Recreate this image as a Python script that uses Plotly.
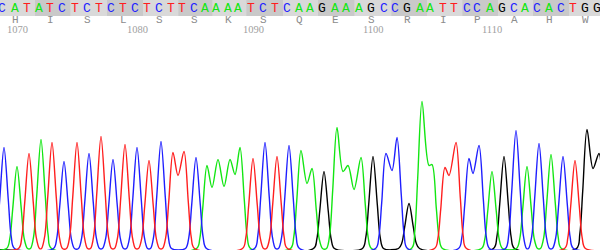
import plotly.graph_objects as go

# ---- data ----
bases = list("CATATCTCTCTCTCTTC" "AAAATCTCAAGAAAGCC" "GAATTCCAGCACACTGG")
peak_x = [4, 17, 29, 41, 52, 64, 77, 89, 101, 113, 125, 137, 149, 161, 173, 184, 196,
          207, 218, 230, 240, 253, 265, 277, 289, 301, 312, 324, 337, 348, 361, 373, 386, 397,
          409, 422, 432, 445, 456, 469, 479, 492, 504, 516, 527, 539, 551, 563, 575, 587, 599]
peak_h = [101, 82, 95, 109, 106, 87, 106, 95, 112, 89, 104, 101, 88, 107, 96, 97, 91,
          83, 89, 89, 101, 90, 106, 92, 103, 98, 80, 77, 121, 83, 91, 92, 95, 111,
          45, 147, 84, 81, 106, 90, 103, 77, 92, 118, 82, 105, 94, 92, 88, 119, 95]
# dip between base i and base i+1 when both are the same call: (i, x, height)
dips = [(14, 178, 73), (17, 212, 61), (18, 224, 62), (19, 235, 74), (25, 307, 65),
        (28, 343, 77), (29, 354, 59), (32, 392, 78), (35, 429, 83), (37, 449, 73),
        (39, 473, 75), (49, 593, 80)]
amino_acids = list("HISLSSKSQESRIPAHW")
first_number = 1070  # numbering of base index 1
number_ticks = [1070, 1080, 1090, 1100, 1110]

colors = {"A": "#12e612", "C": "#1e1eff", "G": "#000000", "T": "#ff1e1e"}
# peak outline style: (offset from peak, fraction of peak height)
PROFILE = [(10.5, 0.0), (7.2, 0.12), (4.3, 0.48)]

fig = go.Figure()
dip_map = {d[0]: (d[1], d[2]) for d in dips}
for b in ["G", "A", "C", "T"]:
    xs, ys = [-30], [0]
    i = 0
    n = len(bases)
    while i < n:
        if bases[i] != b:
            i += 1
            continue
        for off, fr in PROFILE:
            xs.append(peak_x[i] - off); ys.append(peak_h[i] * fr)
        xs.append(peak_x[i]); ys.append(peak_h[i])
        while i in dip_map and i + 1 < n and bases[i + 1] == b:
            dx, dh = dip_map[i]
            xs.append(dx); ys.append(dh)
            i += 1
            xs.append(peak_x[i]); ys.append(peak_h[i])
        for off, fr in reversed(PROFILE):
            xs.append(peak_x[i] + off); ys.append(peak_h[i] * fr)
        i += 1
    xs.append(640); ys.append(0)
    fig.add_trace(go.Scatter(x=xs, y=ys, mode="lines",
                             line=dict(color=colors[b], width=1.4, shape="spline", smoothing=0.9),
                             hoverinfo="skip", showlegend=False))

shapes = []
band_h = 16 / 250
shapes.append(dict(type="rect", xref="paper", yref="paper", x0=0, x1=1, y0=1 - band_h, y1=1,
                   fillcolor="#cfcfcf", line=dict(width=0), layer="below"))
ncod = len(amino_acids)
for k in range(ncod):
    i0 = 3 * k
    i2 = 3 * k + 2
    left = (peak_x[i0] + peak_x[i0 - 1]) / 2 if i0 > 0 else -10
    right = (peak_x[i2] + peak_x[i2 + 1]) / 2 if i2 + 1 < len(peak_x) else 610
    shapes.append(dict(type="rect", xref="x", yref="paper", x0=left, x1=right,
                       y0=1 - band_h, y1=1,
                       fillcolor="#d9d9d9" if k % 2 == 0 else "#c9c9c9",
                       line=dict(width=0), layer="below"))

annotations = []
for i, b in enumerate(bases):
    annotations.append(dict(x=peak_x[i], y=1 - 8.5 / 250, xref="x", yref="paper", text=b,
                            showarrow=False, xshift=-2, yanchor="middle", xanchor="center",
                            font=dict(family="Liberation Mono", size=13, color=colors[b])))
for k, aa in enumerate(amino_acids):
    annotations.append(dict(x=peak_x[3 * k + 1], y=1 - 20.5 / 250, xref="x", yref="paper",
                            text=aa, showarrow=False, xshift=-2, yanchor="middle", xanchor="center",
                            font=dict(family="Liberation Mono", size=11, color="#8c8c8c")))
for num in number_ticks:
    idx = num - first_number + 1
    annotations.append(dict(x=peak_x[idx], y=1 - 29.5 / 250, xref="x", yref="paper",
                            text=str(num), showarrow=False, yanchor="middle", xanchor="center",
                            font=dict(family="Liberation Serif", size=10.5, color="#a0a0a0")))

fig.update_layout(
    width=600, height=250, margin=dict(l=0, r=0, t=0, b=0),
    paper_bgcolor="white", plot_bgcolor="white",
    xaxis=dict(range=[0, 600], visible=False, fixedrange=True),
    yaxis=dict(range=[-1.5, 248.5], visible=False, fixedrange=True),
    shapes=shapes, annotations=annotations,
)
fig.write_html("out.html")
